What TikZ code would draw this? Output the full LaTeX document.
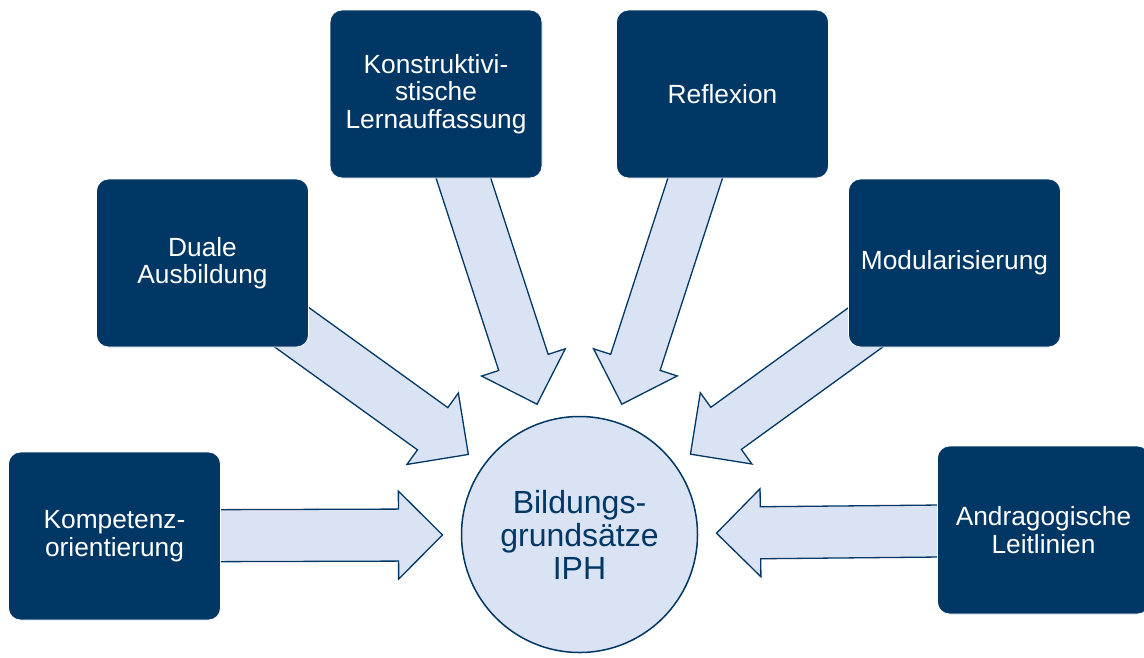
\documentclass[tikz,border=0pt]{standalone}
\usepackage{fontspec}
\setmainfont{Liberation Sans}
\usetikzlibrary{calc,positioning}
\definecolor{navy}{RGB}{0,55,100}
\definecolor{paleblue}{RGB}{218,227,243}
\pgfdeclarelayer{background}
\pgfsetlayers{background,main}
\def\blockarrow#1#2{%
  \coordinate (tip-#1) at ($(#2)!137pt!(#1)$);
  \coordinate (neck-#1) at ($(tip-#1)!44pt!(#1)$);
  \draw [arrowbody] ($(#1)!26pt!90:(tip-#1)$) -- ($(neck-#1)!26pt!90:(tip-#1)$) -- ($(neck-#1)!44pt!90:(tip-#1)$) -- (tip-#1)
    -- ($(neck-#1)!44pt!-90:(tip-#1)$) -- ($(neck-#1)!26pt!-90:(tip-#1)$) -- ($(#1)!26pt!-90:(tip-#1)$) -- cycle;
}

\begin{document}
\begin{tikzpicture}[x=1pt, y=-1pt]
    \tikzstyle{every node} = [font=\fontsize{26.3}{27.5}\selectfont]
    \tikzstyle{box} = [rectangle, rounded corners=12pt, fill=navy, draw=white, line width=0.8pt, text=white, align=center, minimum width=212pt, minimum height=168pt, inner sep=0pt]
    \tikzstyle{hub} = [circle, fill=paleblue, draw=navy, line width=1.5pt, text=navy, align=center, minimum size=236pt, inner sep=0pt, font=\fontsize{32}{33}\selectfont]
    \tikzstyle{arrowbody} = [fill=paleblue, draw=navy, line width=1.3pt, line join=miter]

    \useasboundingbox (0,0) rectangle (1144,657);

    \node (iph) [hub] at (579.5,534.5) {Bildungs-\\grundsätze\\IPH};
    \node (kompetenz) [box] at (114.5,536) {Kompetenz-\\orientierung};
    \node (duale) [box] at (202.5,263) {Duale\\Ausbildung};
    \node (konstrukt) [box] at (436,94) {Konstruktivi-\\stische\\Lernauffassung};
    \node (reflexion) [box, right of=konstrukt, node distance=286.5pt] {Reflexion};
    \node (modular) [box] at (954.5,263) {Modularisierung};
    \node (andragogik) [box] at (1043.5,530) {Andragogische\\Leitlinien};

    \begin{pgfonlayer}{background}
    \blockarrow{kompetenz}{iph}
    \blockarrow{duale}{iph}
    \blockarrow{konstrukt}{iph}
    \blockarrow{reflexion}{iph}
    \blockarrow{modular}{iph}
    \blockarrow{andragogik}{iph}
    \end{pgfonlayer}
\end{tikzpicture}
\end{document}
